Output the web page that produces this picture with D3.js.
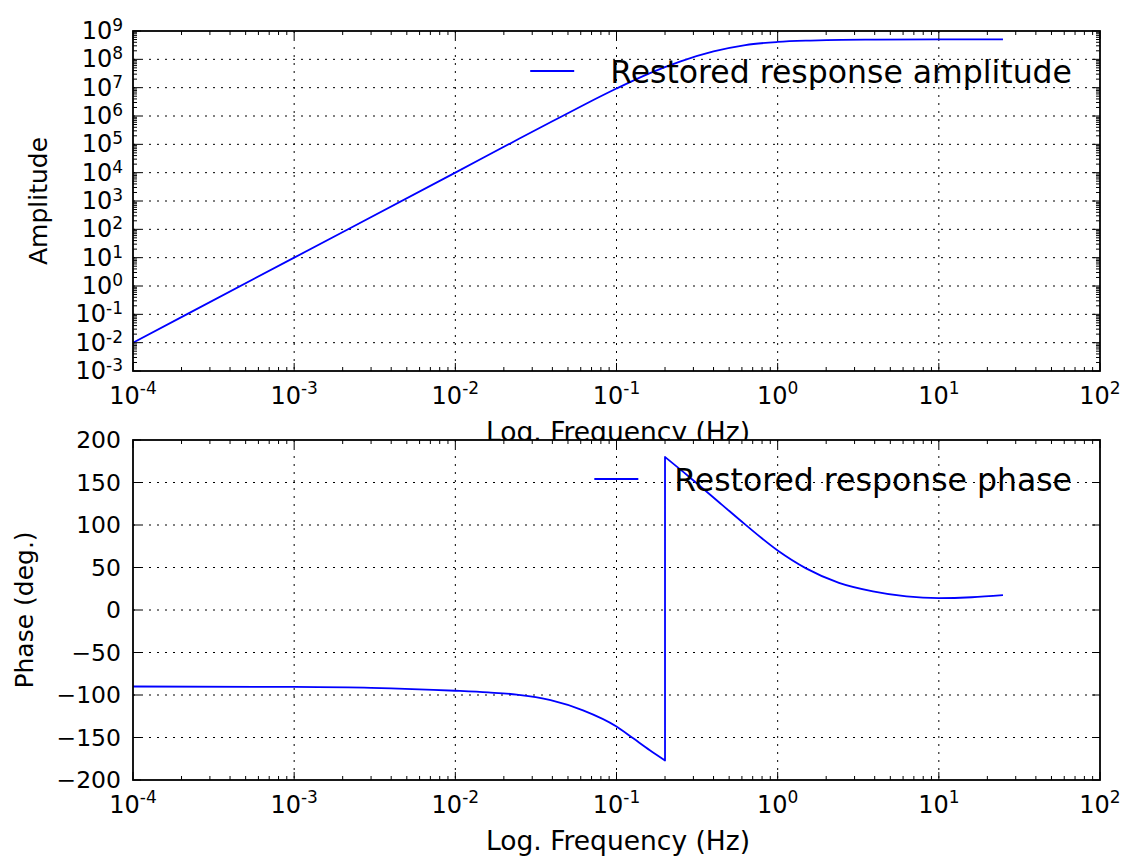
<!DOCTYPE html>
<html>
<head>
<meta charset="utf-8">
<script src="https://cdn.jsdelivr.net/npm/d3@7"></script>
<style>
  body { margin: 0; background: #fff; }
  svg text { font-family: "DejaVu Sans", sans-serif; fill: #000; }
</style>
</head>
<body>
<svg id="chart" width="1126" height="861"></svg>
<script>
// values (Hz / counts / degrees)
const freqAmp = [1e-4, 1e-3, 1e-2, 0.025, 0.04, 0.063, 0.1, 0.16, 0.25, 0.4, 0.63, 1, 1.6, 2.5, 4, 10, 25];
const amplitude = [1e-2, 1e1, 1e4, 1.6e5, 6.5e5, 2.5e6, 9.3e6, 3.2e7, 8.5e7, 1.9e8, 3.2e8, 4.1e8, 4.6e8, 4.9e8, 5e8, 5.1e8, 5.1e8];

const freqPhase = [1e-4, 1e-3, 3e-3, 0.01, 0.016, 0.024, 0.039, 0.062, 0.1, 0.127, 0.161, 0.2, 0.2, 0.277, 0.45, 0.625, 1, 1.5, 2.4, 3.9, 6.3, 10, 16, 25];
const phase = [-90, -90.5, -91.5, -95, -97, -99.5, -106, -118, -137, -151, -165, -177, 180, 158, 124, 101, 70, 49, 32, 22, 16, 14, 15, 17.5];

const xTicks = [1e-4, 1e-3, 1e-2, 1e-1, 1e0, 1e1, 1e2];
const xTickExp = ['-4', '-3', '-2', '-1', '0', '1', '2'];
const ampTicks = [1e-3, 1e-2, 1e-1, 1e0, 1e1, 1e2, 1e3, 1e4, 1e5, 1e6, 1e7, 1e8, 1e9];
const ampTickExp = ['-3', '-2', '-1', '0', '1', '2', '3', '4', '5', '6', '7', '8', '9'];
const phaseTicks = [-200, -150, -100, -50, 0, 50, 100, 150, 200];
const phaseTickLabels = ['\u2212200', '\u2212150', '\u2212100', '\u221250', '0', '50', '100', '150', '200'];

const xLabel = 'Log. Frequency (Hz)';

const svg = d3.select('#chart');
const left = 133;
const right = 1100;
const blue = '#0000ff';

const scaleX = d3.scaleLog().domain([1e-4, 1e2]).range([left, right]);

// minor ticks for a log axis, 2..9 in every decade
function logMinor(lo, hi) {
  const out = [];
  for (let e = lo; e < hi; e++) {
    for (let k = 2; k < 10; k++) out.push(k * Math.pow(10, e));
  }
  return out;
}
const xMinor = logMinor(-4, 2);

function superLabel(sel, base, exp, baseSize, expSize, rise) {
  sel.append('tspan').text(base).style('font-size', `${baseSize}px`);
  sel.append('tspan').text(exp).style('font-size', `${expSize}px`).attr('dy', -rise);
}

// split a series where the frequency repeats (phase wrap) so each run can be smoothed
function runs(xs, ys) {
  const out = [[]];
  xs.forEach((f, i) => {
    if (i > 0 && f === xs[i - 1]) out.push([]);
    out[out.length - 1].push([f, ys[i]]);
  });
  return out;
}

function drawPanel(p) {
  const top = p.top;
  const bottom = p.bottom;
  const scaleY = p.scaleY;
  const g = svg.append('g');

  g.append('rect')
    .attr('x', left).attr('y', top)
    .attr('width', right - left).attr('height', bottom - top)
    .attr('fill', '#fff');

  // grid
  g.selectAll('.vgrid')
    .data(xTicks.slice(1, -1))
    .enter()
    .append('line')
    .attr('x1', d => scaleX(d)).attr('x2', d => scaleX(d))
    .attr('y1', top).attr('y2', bottom)
    .attr('stroke', '#000').attr('stroke-width', 1)
    .attr('stroke-dasharray', '2,6');

  g.selectAll('.hgrid')
    .data(p.yTicks.slice(1, -1))
    .enter()
    .append('line')
    .attr('x1', left).attr('x2', right)
    .attr('y1', d => scaleY(d)).attr('y2', d => scaleY(d))
    .attr('stroke', '#000').attr('stroke-width', 1)
    .attr('stroke-dasharray', '2,6');

  // curve
  const clipId = `clip-${p.key}`;
  svg.append('clipPath').attr('id', clipId)
    .append('rect')
    .attr('x', left).attr('y', top)
    .attr('width', right - left).attr('height', bottom - top);

  const line = d3.line()
    .x(d => scaleX(d[0]))
    .y(d => scaleY(d[1]))
    .curve(d3.curveMonotoneX);

  const pieces = runs(p.xs, p.ys);
  // join the runs: smooth inside each, straight jump between them
  let d = '';
  pieces.forEach((r, i) => {
    const seg = line(r);
    d += i === 0 ? seg : 'L' + seg.slice(1);
  });

  g.append('path')
    .attr('d', d)
    .attr('clip-path', `url(#${clipId})`)
    .attr('fill', 'none')
    .attr('stroke', blue)
    .attr('stroke-width', 1.8)
    .attr('stroke-linejoin', 'round');

  // legend (no frame)
  const legText = g.append('text')
    .attr('x', 1072)
    .attr('y', p.legendBaseline)
    .attr('text-anchor', 'end')
    .style('font-size', '31.5px')
    .text(p.legend);
  const textStart = 1072 - legText.node().getComputedTextLength();
  g.append('line')
    .attr('x1', textStart - 80).attr('x2', textStart - 36)
    .attr('y1', p.legendBaseline - 12).attr('y2', p.legendBaseline - 12)
    .attr('stroke', blue).attr('stroke-width', 1.8);

  // ticks, inward on all four sides
  const ticks = g.append('g').attr('stroke', '#000').attr('stroke-width', 1);
  const xt = xTicks.map(v => ({ v, len: 8 })).concat(xMinor.map(v => ({ v, len: 4 })));
  xt.forEach(t => {
    const px = scaleX(t.v);
    ticks.append('line').attr('x1', px).attr('x2', px).attr('y1', bottom).attr('y2', bottom - t.len);
    ticks.append('line').attr('x1', px).attr('x2', px).attr('y1', top).attr('y2', top + t.len);
  });
  const yt = p.yTicks.map(v => ({ v, len: 8 })).concat(p.yMinor.map(v => ({ v, len: 4 })));
  yt.forEach(t => {
    const py = scaleY(t.v);
    ticks.append('line').attr('x1', left).attr('x2', left + t.len).attr('y1', py).attr('y2', py);
    ticks.append('line').attr('x1', right).attr('x2', right - t.len).attr('y1', py).attr('y2', py);
  });

  g.append('rect')
    .attr('x', left).attr('y', top)
    .attr('width', right - left).attr('height', bottom - top)
    .attr('fill', 'none')
    .attr('stroke', '#000')
    .attr('stroke-width', 1.8);

  // x tick labels
  xTicks.forEach((v, i) => {
    const t = g.append('text')
      .attr('x', scaleX(v))
      .attr('y', bottom + 33)
      .attr('text-anchor', 'middle');
    superLabel(t, '10', xTickExp[i], 24, 17, 10);
  });

  // y tick labels
  p.yTicks.forEach((v, i) => {
    const t = g.append('text')
      .attr('x', p.yLabelRight)
      .attr('y', scaleY(v) + 8)
      .attr('text-anchor', 'end');
    p.yTickText(t, i);
  });

  // axis titles
  g.append('text')
    .attr('transform', `translate(${p.yTitleX},${(top + bottom) / 2}) rotate(-90)`)
    .attr('text-anchor', 'middle')
    .style('font-size', '25px')
    .text(p.yTitle);

  g.append('text')
    .attr('x', 618)
    .attr('y', bottom + 70)
    .attr('text-anchor', 'middle')
    .style('font-size', '26.5px')
    .text(xLabel);
}

drawPanel({
  key: 'amp',
  top: 31,
  bottom: 371,
  scaleY: d3.scaleLog().domain([1e-3, 1e9]).range([371, 31]),
  yTicks: ampTicks,
  yMinor: logMinor(-3, 9),
  yLabelRight: 123,
  yTickText: (t, i) => superLabel(t, '10', ampTickExp[i], 24, 17, 8),
  yTitle: 'Amplitude',
  yTitleX: 47,
  xs: freqAmp,
  ys: amplitude,
  legend: 'Restored response amplitude',
  legendBaseline: 83
});

drawPanel({
  key: 'phase',
  top: 440,
  bottom: 780,
  scaleY: d3.scaleLinear().domain([-200, 200]).range([780, 440]),
  yTicks: phaseTicks,
  yMinor: [],
  yLabelRight: 121,
  yTickText: (t, i) => t.style('font-size', '23.5px').text(phaseTickLabels[i]),
  yTitle: 'Phase (deg.)',
  yTitleX: 33,
  xs: freqPhase,
  ys: phase,
  legend: 'Restored response phase',
  legendBaseline: 491
});
</script>
</body>
</html>
